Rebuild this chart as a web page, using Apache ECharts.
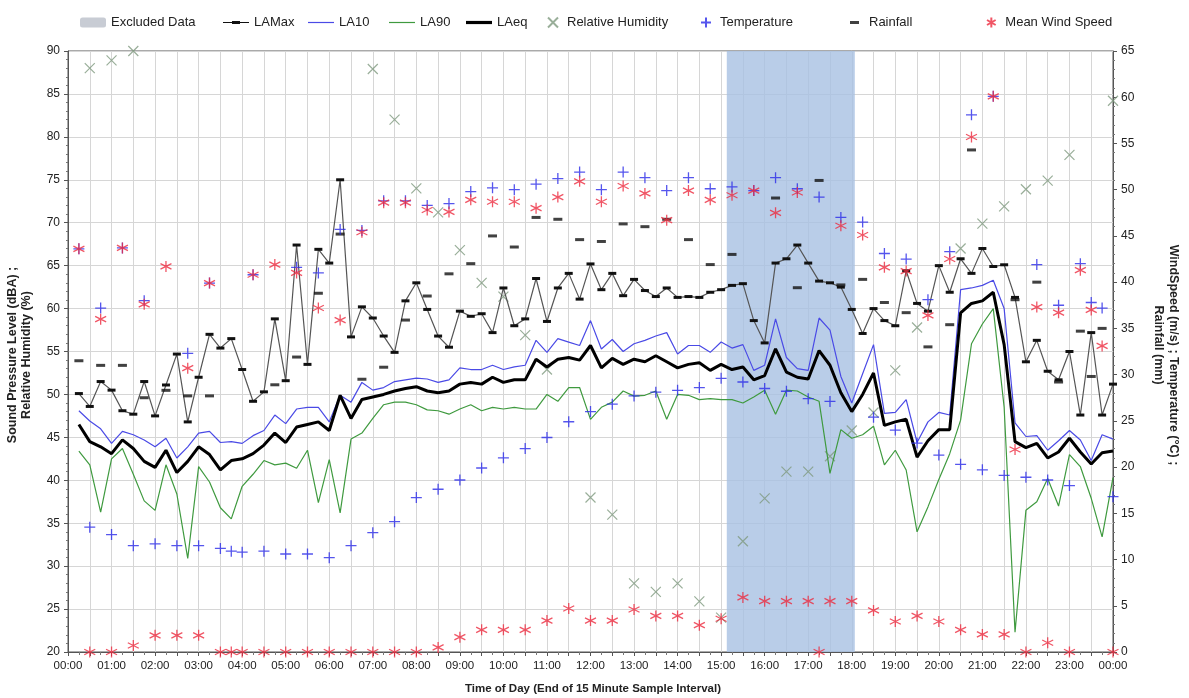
<!DOCTYPE html>
<html lang="en">
<head>
    <meta charset="UTF-8">
    <title>Noise and weather - time of day</title>
    <script src="https://cdn.jsdelivr.net/npm/echarts@6/dist/echarts.min.js"></script>
    <style>
        html, body { margin: 0; padding: 0; background: #fff; }
        #main { width: 1189px; height: 698px; }
    </style>
</head>
<body>
<div id="main"></div>
<script>
    // 15 minute sound levels, end of interval 00:15 ... 24:00 (one row per hour)
    const laMax = [
        50.1, 48.6, 51.5, 50.5,  48.1, 47.7, 51.5, 47.5,  51.1, 54.7, 46.8, 52.0,
        57.0, 55.4, 56.5, 52.9,  49.2, 50.3, 58.8, 51.6,  67.4, 53.5, 66.9, 65.3,
        75.0, 56.7, 60.2, 58.9,  56.8, 54.9, 60.9, 63.0,  59.9, 56.8, 55.5, 59.7,
        59.1, 59.4, 57.2, 62.4,  58.0, 58.8, 63.5, 58.5,  62.4, 64.1, 61.1, 65.2,
        62.2, 64.1, 61.5, 63.4,  62.1, 61.4, 62.4, 61.3,  61.4, 61.3, 61.9, 62.2,
        62.7, 62.9, 58.6, 56.0,  65.3, 65.8, 67.4, 65.3,  63.2, 63.0, 62.5, 59.9,
        57.1, 60.0, 58.6, 58.0,  64.4, 60.6, 59.7, 65.0,  61.9, 65.8, 64.1, 67.0,
        64.9, 65.1, 61.3, 53.8,  56.3, 52.7, 51.7, 55.0,  47.6, 57.2, 47.6, 51.2
    ];
    const la10 = [
        48.1, 46.9, 46.0, 44.3,  45.7, 45.3, 44.7, 43.9,  44.9, 42.6, 43.9, 45.5,
        45.7, 44.4, 44.5, 44.3,  45.2, 45.8, 47.6, 46.6,  48.3, 48.5, 48.5, 46.8,
        49.9, 49.1, 51.4, 50.5,  50.8, 51.5, 51.7, 51.9,  51.8, 51.4, 51.7, 53.1,
        52.9, 52.9, 53.4, 52.9,  53.2, 53.4, 56.3, 54.9,  56.5, 56.1, 55.7, 58.6,
        55.3, 56.4, 55.0, 55.9,  56.3, 56.8, 57.2, 54.7,  55.7, 55.7, 54.9, 56.1,
        55.4, 55.8, 52.8, 53.4,  58.8, 54.3, 53.0, 52.8,  58.9, 57.5, 52.1, 49.0,
        52.4, 55.8, 47.8, 47.9,  49.4, 44.4, 46.8, 47.9,  47.6, 62.2, 62.4, 62.7,
        63.3, 60.0, 46.7, 45.1,  45.2, 43.5, 44.6, 45.8,  44.7, 42.3, 45.3, 44.8
    ];
    const la90 = [
        43.4, 41.8, 36.3, 42.5,  43.7, 40.7, 37.6, 36.5,  41.8, 38.4, 30.9, 41.6,
        39.8, 36.8, 35.5, 39.3,  40.7, 42.3, 41.8, 42.0,  41.4, 43.5, 37.4, 42.4,
        36.2, 44.8, 45.5, 47.2,  48.8, 49.1, 49.1, 48.8,  48.2, 48.1, 47.7, 48.3,
        48.8, 48.1, 48.5, 48.3,  48.5, 48.3, 48.3, 50.0,  49.2, 50.8, 50.8, 47.1,
        48.5, 49.1, 50.4, 49.8,  49.9, 50.4, 47.1, 50.0,  49.9, 49.4, 49.5, 49.4,
        49.4, 49.0, 49.7, 50.5,  47.7, 50.5, 50.4, 49.7,  49.2, 40.8, 45.9, 44.9,
        45.3, 46.3, 41.8, 43.5,  41.2, 34.0, 36.9, 40.1,  43.1, 47.0, 55.9, 58.2,
        60.0, 48.5, 22.3, 36.5,  37.5, 40.2, 37.0, 43.0,  41.6, 37.9, 33.4, 40.3
    ];
    const laEq = [
        46.5, 44.5, 43.9, 43.1,  44.7, 43.7, 42.2, 41.5,  43.5, 40.9, 42.2, 43.9,
        43.0, 41.2, 42.3, 42.5,  43.1, 44.1, 45.5, 44.4,  46.2, 46.5, 46.8, 45.8,
        49.9, 47.2, 49.4, 49.7,  50.0, 50.4, 50.7, 50.9,  50.4, 50.2, 50.4, 51.2,
        51.4, 51.2, 52.0, 51.4,  51.7, 51.7, 54.1, 53.2,  54.1, 54.3, 54.0, 55.7,
        53.1, 54.2, 53.5, 54.1,  53.8, 54.5, 53.8, 53.1,  53.5, 53.7, 52.8, 53.5,
        52.9, 53.2, 51.7, 52.2,  55.3, 52.6, 52.0, 51.8,  55.1, 53.4, 50.2, 48.0,
        50.0, 52.5, 46.4, 46.8,  47.1, 42.7, 44.6, 45.9,  45.9, 59.5, 60.6, 60.9,
        61.9, 55.8, 44.5, 43.8,  44.3, 42.6, 43.3, 44.9,  43.3, 41.9, 43.2, 43.4
    ];

    // weather readings [time, value]
    const humidity = [
        ['00:30', 88.0], ['01:00', 88.9], ['01:30', 90.0], ['07:00', 87.9], ['07:30', 82.0],
        ['08:00', 74.0], ['08:30', 71.2], ['09:00', 66.8], ['09:30', 63.0], ['10:00', 61.4],
        ['10:30', 56.9], ['11:00', 52.9], ['12:00', 38.0], ['12:30', 36.0], ['13:00', 28.0],
        ['13:30', 27.0], ['14:00', 28.0], ['14:30', 25.9], ['15:00', 24.0], ['15:30', 32.9],
        ['16:00', 37.9], ['16:30', 41.0], ['17:00', 41.0], ['17:30', 42.8], ['18:00', 45.8],
        ['18:30', 47.9], ['19:00', 52.8], ['19:30', 57.8], ['20:30', 67.0], ['21:00', 69.9],
        ['21:30', 71.9], ['22:00', 73.9], ['22:30', 74.9], ['23:00', 77.9], ['24:00', 84.2]
    ];
    const temperature = [
        ['00:15', 43.6], ['00:45', 37.2], ['01:15', 43.7], ['01:45', 38.0], ['02:45', 32.3],
        ['03:15', 39.9], ['04:15', 40.8], ['05:15', 41.6], ['05:45', 41.0], ['06:15', 45.7],
        ['06:45', 45.6], ['07:15', 48.8], ['07:45', 48.8], ['08:15', 48.3], ['08:45', 48.5],
        ['09:15', 49.8], ['09:45', 50.2], ['10:15', 50.0], ['10:45', 50.6], ['11:15', 51.2],
        ['11:45', 51.9], ['12:15', 50.0], ['12:45', 51.9], ['13:15', 51.3], ['13:45', 49.9],
        ['14:15', 51.3], ['14:45', 50.1], ['15:15', 50.3], ['15:45', 49.9], ['16:15', 51.3],
        ['16:45', 50.1], ['17:15', 49.2], ['17:45', 47.0], ['18:15', 46.5], ['18:45', 43.1],
        ['19:15', 42.5], ['19:45', 38.1], ['20:15', 43.3], ['20:45', 58.1], ['21:15', 60.1],
        ['22:15', 41.9], ['22:45', 37.5], ['23:15', 42.0], ['23:30', 37.8], ['23:45', 37.2],
        ['00:30', 13.5], ['01:00', 12.7], ['01:30', 11.5], ['02:00', 11.7], ['02:30', 11.5],
        ['03:00', 11.5], ['03:30', 11.2], ['03:45', 10.9], ['04:00', 10.8], ['04:30', 10.9],
        ['05:00', 10.6], ['05:30', 10.6], ['06:00', 10.2], ['06:30', 11.5], ['07:00', 12.9],
        ['07:30', 14.1], ['08:00', 16.7], ['08:30', 17.6], ['09:00', 18.6], ['09:30', 19.9],
        ['10:00', 21.0], ['10:30', 22.0], ['11:00', 23.2], ['11:30', 24.9], ['12:00', 26.0],
        ['12:30', 26.8], ['13:00', 27.7], ['13:30', 28.1], ['14:00', 28.3], ['14:30', 28.6],
        ['15:00', 29.6], ['15:30', 29.2], ['16:00', 28.5], ['16:30', 28.2], ['17:00', 27.4],
        ['17:30', 27.1], ['18:30', 25.4], ['19:00', 24.0], ['19:30', 22.6], ['20:00', 21.3],
        ['20:30', 20.3], ['21:00', 19.7], ['21:30', 19.1], ['22:00', 18.9], ['22:30', 18.6],
        ['23:00', 18.0], ['24:00', 16.8]
    ];
    const rainfall = [
        ['00:15', 31.5], ['00:45', 31.0], ['01:15', 31.0], ['01:45', 27.5], ['02:15', 28.3],
        ['02:45', 27.7], ['03:15', 27.7], ['04:45', 28.9], ['05:15', 31.9], ['05:45', 38.8],
        ['06:15', 45.2], ['06:45', 29.5], ['07:15', 30.8], ['07:45', 35.9], ['08:15', 38.5],
        ['08:45', 40.9], ['09:15', 42.0], ['09:45', 45.0], ['10:15', 43.8], ['10:45', 47.0],
        ['11:15', 46.8], ['11:45', 44.6], ['12:15', 44.4], ['12:45', 46.3], ['13:15', 46.0],
        ['13:45', 46.8], ['14:15', 44.6], ['14:45', 41.9], ['15:15', 43.0], ['16:15', 49.1],
        ['16:45', 39.4], ['17:15', 51.0], ['17:45', 39.7], ['18:15', 40.3], ['18:45', 37.8],
        ['19:15', 36.7], ['19:45', 33.0], ['20:15', 35.4], ['20:45', 54.3], ['21:45', 38.1],
        ['22:15', 40.0], ['22:45', 29.2], ['23:15', 34.7], ['23:30', 29.8], ['23:45', 35.0]
    ];
    const windSpeed = [
        ['00:15', 43.6], ['00:45', 36.0], ['01:15', 43.7], ['01:45', 37.6], ['02:15', 41.7],
        ['02:45', 30.7], ['03:15', 39.9], ['04:15', 40.8], ['04:45', 41.9], ['05:15', 41.0],
        ['05:45', 37.2], ['06:15', 35.9], ['06:45', 45.4], ['07:15', 48.6], ['07:45', 48.6],
        ['08:15', 47.8], ['08:45', 47.6], ['09:15', 48.9], ['09:45', 48.7], ['10:15', 48.7],
        ['10:45', 48.0], ['11:15', 49.2], ['11:45', 50.9], ['12:15', 48.7], ['12:45', 50.4],
        ['13:15', 49.6], ['13:45', 46.7], ['14:15', 49.9], ['14:45', 48.9], ['15:15', 49.4],
        ['15:45', 49.9], ['16:15', 47.5], ['16:45', 49.7], ['17:15', 0], ['17:45', 46.1],
        ['18:15', 45.1], ['18:45', 41.6], ['19:15', 41.2], ['19:45', 36.4], ['20:15', 42.5],
        ['20:45', 55.7], ['21:15', 60.1], ['21:45', 21.9], ['22:15', 37.3], ['22:45', 36.7],
        ['23:15', 41.3], ['23:30', 37.0], ['23:45', 33.1],
        ['00:30', 0], ['01:00', 0], ['01:30', 0.7], ['02:00', 1.8], ['02:30', 1.8],
        ['03:00', 1.8], ['03:30', 0], ['03:45', 0], ['04:00', 0], ['04:30', 0],
        ['05:00', 0], ['05:30', 0], ['06:00', 0], ['06:30', 0], ['07:00', 0],
        ['07:30', 0], ['08:00', 0], ['08:30', 0.5], ['09:00', 1.6], ['09:30', 2.4],
        ['10:00', 2.4], ['10:30', 2.4], ['11:00', 3.4], ['11:30', 4.7], ['12:00', 3.4],
        ['12:30', 3.4], ['13:00', 4.6], ['13:30', 3.9], ['14:00', 3.9], ['14:30', 2.9],
        ['15:00', 3.6], ['15:30', 5.9], ['16:00', 5.5], ['16:30', 5.5], ['17:00', 5.5],
        ['17:30', 5.5], ['18:00', 5.5], ['18:30', 4.5], ['19:00', 3.3], ['19:30', 3.9],
        ['20:00', 3.3], ['20:30', 2.4], ['21:00', 1.9], ['21:30', 1.9], ['22:00', 0],
        ['22:30', 1.0], ['23:00', 0], ['24:00', 0]
    ];

    // excluded period (hours)
    const excludedFrom = 15.13;
    const excludedTo = 18.07;

    const chart = echarts.init(document.getElementById('main'));

    const lineTimes = laEq.map((v, i) => (i + 1) * 0.25);
    const withTimes = vals => vals.map((v, i) => [lineTimes[i], v]);
    const toHours = s => { const p = s.split(':'); return +p[0] + p[1] / 60; };
    const withHours = list => list.map(d => [toHours(d[0]), d[1]]);

    // marker shapes
    const X_MARK = 'path://M0,0L10,10M10,0L0,10';
    const PLUS = 'path://M5,0L5,10M0,5L10,5';
    const STAR = 'path://M5,0L5,10M0.67,2.5L9.33,7.5M0.67,7.5L9.33,2.5';

    // legend icons (the stray moves fix the icon box)
    const BOX26 = 'M0,0L0,0M26,10L26,10';
    const ICON_THIN = 'path://' + BOX26 + 'M0,4.4L26,4.4L26,5.6L0,5.6Z';
    const ICON_THICK = 'path://' + BOX26 + 'M0,3.4L26,3.4L26,6.6L0,6.6Z';
    const ICON_MAX = 'path://' + BOX26 + 'M0,4.4L26,4.4L26,5.6L0,5.6ZM9,3.4L17,3.4L17,6.6L9,6.6Z';
    const ICON_DASH = 'path://M0,0L0,0M18,10L18,10M4,3.5L13,3.5L13,6.5L4,6.5Z';

    const FONT = 'Liberation Sans';

    // one legend per entry so each sits where the original puts it
    const legendItems = [
        { name: 'Excluded Data', icon: 'roundRect', left: 80, w: 26 },
        { name: 'LAMax', icon: ICON_MAX, left: 223, w: 26 },
        { name: 'LA10', icon: ICON_THIN, left: 308, w: 26 },
        { name: 'LA90', icon: ICON_THIN, left: 389, w: 26 },
        { name: 'LAeq', icon: ICON_THICK, left: 466, w: 26 },
        { name: 'Relative Humidity', icon: X_MARK, left: 547, w: 18 },
        { name: 'Temperature', icon: PLUS, left: 700, w: 18 },
        { name: 'Rainfall', icon: ICON_DASH, left: 846, w: 18 },
        { name: 'Mean Wind Speed', icon: STAR, left: 986, w: 18 }
    ];
    const legends = legendItems.map(it => ({
        top: 16,
        left: it.left,
        padding: 0,
        itemWidth: it.w,
        itemHeight: 10,
        selectedMode: false,
        textStyle: { fontFamily: FONT, fontSize: 13, color: '#222' },
        data: [{ name: it.name, icon: it.icon }]
    }));

    const option = {
        animation: false,
        grid: {
            left: 68, right: 76, top: 51, bottom: 46,
            show: true, borderColor: '#555', borderWidth: 1
        },
        legend: legends,
        xAxis: {
            type: 'value',
            min: 0, max: 24, interval: 0.5,
            axisLine: { lineStyle: { color: '#555' } },
            axisTick: { show: true, length: 4, lineStyle: { color: '#555' } },
            minorTick: { show: true, splitNumber: 2, length: 3, lineStyle: { color: '#777' } },
            splitLine: { show: true, lineStyle: { color: '#d6d6d6' } },
            axisLabel: {
                fontFamily: FONT, fontSize: 11.5, color: '#222', margin: 8,
                formatter: v => {
                    if (v % 1 !== 0) return '';
                    const h = v % 24;
                    return (h < 10 ? '0' : '') + h + ':00';
                }
            }
        },
        yAxis: [
            {
                type: 'value', min: 20, max: 90, interval: 5,
                axisLine: { show: true, lineStyle: { color: '#555' } },
                axisTick: { show: true, length: 4, lineStyle: { color: '#555' } },
                minorTick: { show: true, splitNumber: 5, length: 2, lineStyle: { color: '#777' } },
                splitLine: { show: true, lineStyle: { color: '#d6d6d6' } },
                axisLabel: { fontFamily: FONT, fontSize: 12, color: '#222', margin: 8 }
            },
            {
                type: 'value', min: 0, max: 65, interval: 5,
                position: 'right',
                axisLine: { show: true, lineStyle: { color: '#555' } },
                axisTick: { show: true, length: 4, lineStyle: { color: '#555' } },
                minorTick: { show: true, splitNumber: 5, length: 2, lineStyle: { color: '#777' } },
                splitLine: { show: false },
                axisLabel: { fontFamily: FONT, fontSize: 12, color: '#222', margin: 8 }
            }
        ],
        graphic: [
            {
                type: 'text', x: 13, y: 355, rotation: Math.PI / 2,
                style: { text: 'Sound Pressure Level (dBA) ;', fontFamily: FONT, fontSize: 12.5,
                         fontWeight: 'bold', fill: '#222', align: 'center', verticalAlign: 'middle' }
            },
            {
                type: 'text', x: 27, y: 355, rotation: Math.PI / 2,
                style: { text: 'Relative Humidity (%)', fontFamily: FONT, fontSize: 12.5,
                         fontWeight: 'bold', fill: '#222', align: 'center', verticalAlign: 'middle' }
            },
            {
                type: 'text', x: 1173, y: 355, rotation: -Math.PI / 2,
                style: { text: 'WindSpeed (m/s) ; Temperature (\u00B0C) ;', fontFamily: FONT, fontSize: 12.5,
                         fontWeight: 'bold', fill: '#222', align: 'center', verticalAlign: 'middle' }
            },
            {
                type: 'text', x: 1158, y: 345, rotation: -Math.PI / 2,
                style: { text: 'Rainfall (mm)', fontFamily: FONT, fontSize: 12.5,
                         fontWeight: 'bold', fill: '#222', align: 'center', verticalAlign: 'middle' }
            },
            {
                type: 'text', x: 593, y: 689,
                style: { text: 'Time of Day (End of 15 Minute Sample Interval)', fontFamily: FONT, fontSize: 11.5,
                         fontWeight: 'bold', fill: '#222', align: 'center', verticalAlign: 'middle' }
            }
        ],
        series: [
            {
                name: 'Excluded Data', type: 'line', data: [], z: 0,
                itemStyle: { color: '#c8ccd4' },
                markArea: {
                    silent: true,
                    itemStyle: { color: 'rgba(168,192,226,0.8)' },
                    data: [[{ xAxis: excludedFrom }, { xAxis: excludedTo }]]
                }
            },
            {
                name: 'Relative Humidity', type: 'scatter', yAxisIndex: 0, z: 3,
                data: withHours(humidity), symbol: X_MARK, symbolSize: 10,
                itemStyle: { color: 'rgba(0,0,0,0)', borderColor: '#7f9a7f', borderWidth: 1.2 }
            },
            {
                name: 'LA90', type: 'line', yAxisIndex: 0, z: 4,
                data: withTimes(la90), showSymbol: false, symbol: 'none',
                itemStyle: { color: '#3f9a3f' }, lineStyle: { color: '#3f9a3f', width: 1.2 }
            },
            {
                name: 'LA10', type: 'line', yAxisIndex: 0, z: 4,
                data: withTimes(la10), showSymbol: false, symbol: 'none',
                itemStyle: { color: '#4a4ae6' }, lineStyle: { color: '#4a4ae6', width: 1.2 }
            },
            {
                name: 'LAMax', type: 'line', yAxisIndex: 0, z: 5,
                data: withTimes(laMax), symbol: 'rect', symbolSize: [8, 3],
                itemStyle: { color: '#111' }, lineStyle: { color: '#555', width: 1.2 }
            },
            {
                name: 'LAeq', type: 'line', yAxisIndex: 0, z: 6,
                data: withTimes(laEq), showSymbol: false, symbol: 'none',
                itemStyle: { color: '#000' }, lineStyle: { color: '#000', width: 3 }
            },
            {
                name: 'Rainfall', type: 'scatter', yAxisIndex: 1, z: 7,
                data: withHours(rainfall), symbol: 'rect', symbolSize: [9, 3],
                itemStyle: { color: '#111' }
            },
            {
                name: 'Temperature', type: 'scatter', yAxisIndex: 1, z: 8,
                data: withHours(temperature), symbol: PLUS, symbolSize: 11,
                itemStyle: { color: 'rgba(0,0,0,0)', borderColor: '#2b2be8', borderWidth: 1.3 }
            },
            {
                name: 'Mean Wind Speed', type: 'scatter', yAxisIndex: 1, z: 8,
                data: withHours(windSpeed), symbol: STAR, symbolSize: 11,
                itemStyle: { color: 'rgba(0,0,0,0)', borderColor: '#ec2b3f', borderWidth: 1.3 }
            }
        ]
    };

    chart.setOption(option);
</script>
</body>
</html>
